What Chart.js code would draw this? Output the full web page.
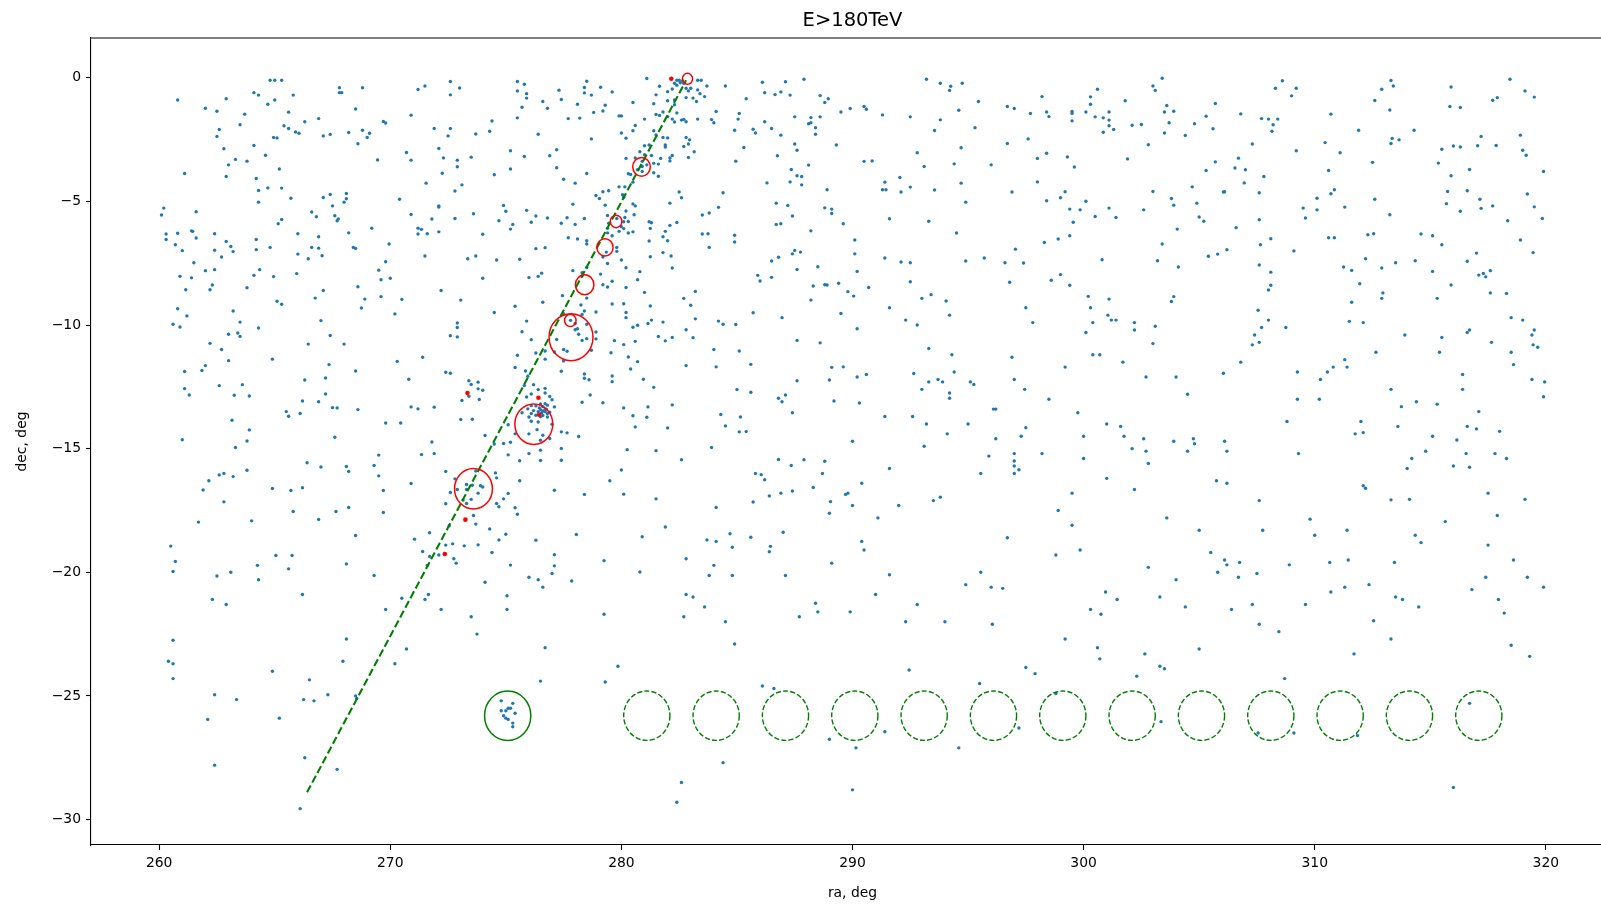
<!DOCTYPE html>
<html>
<head>
<meta charset="utf-8">
<title>E>180TeV</title>
<script src="https://cdn.jsdelivr.net/npm/chart.js"></script>
<style>
  html, body { margin: 0; padding: 0; background: #fff; overflow: hidden; }
  canvas { display: block; }
</style>
</head>
<body>
<canvas id="sky" width="1640" height="905"></canvas>
<script>
// events above 180 TeV, [ra, dec] in degrees
const events = [
  [264.8,-0.1],[265.0,-0.1],[265.3,-0.1],[264.1,-0.6],[264.3,-0.7],[265.8,-0.7],[267.8,-0.4],[268.8,-0.4],[267.8,-0.6],[267.9,-0.6],
  [260.8,-0.9],[262.9,-0.85],[265.0,-0.9],[264.7,-1.07],[262.0,-1.23],[262.5,-1.35],[263.7,-1.47],[265.6,-1.39],[266.9,-1.65],[266.3,-1.78],
  [263.5,-1.9],[265.4,-1.94],[265.6,-2.05],[265.9,-2.19],[266.05,-2.24],[262.6,-2.09],[262.5,-2.37],[264.95,-2.41],[265.1,-2.43],[267.1,-2.35],
  [267.4,-2.29],[268.2,-2.21],[268.5,-1.26],[268.8,-2.12],[269.1,-2.24],[269.0,-2.41],[268.6,-2.67],[269.7,-1.77],[269.8,-1.83],[270.9,-1.51],
  [271.2,-0.47],[271.5,-0.33],[272.6,-0.15],[273.0,-0.41],[272.6,-0.69],[271.9,-2.05],[272.6,-2.05],[272.5,-2.35],[264.1,-2.74],[262.8,-2.87],
  [264.6,-3.13],[263.3,-3.3],[263.8,-3.37],[263.0,-3.52],[265.2,-3.69],[261.1,-3.87],[262.9,-3.99],[264.2,-4.07],[269.45,-3.32],[270.7,-3.02],
  [270.9,-3.33],[272.1,-2.86],[272.3,-3.24],[272.9,-3.33],[272.9,-3.6],[272.25,-3.86],[271.55,-4.26],[273.1,-4.33],[272.8,-4.58],[264.7,-4.45],
  [265.3,-4.46],[264.3,-4.56],[264.3,-5.03],[265.7,-4.87],[267.1,-4.84],[267.4,-4.72],[268.1,-4.68],[268.1,-4.89],[268.0,-5.03],[267.5,-5.18],
  [270.4,-4.91],[260.2,-5.27],[260.1,-5.55],[261.6,-5.42],[266.6,-5.43],[266.8,-5.62],[267.6,-5.58],[267.75,-5.71],[267.7,-5.78],[265.3,-5.73],
  [265.15,-5.9],[270.9,-5.53],[272.1,-5.18],[272.1,-5.23],[271.8,-5.71],[272.8,-5.69],[269.2,-6.08],[271.2,-6.08],[271.35,-6.13],[271.2,-6.32],
  [271.6,-6.31],[272.1,-6.23],[260.3,-6.32],[260.3,-6.54],[260.8,-6.29],[261.4,-6.19],[261.45,-6.21],[261.6,-6.48],[262.4,-6.31],[260.7,-6.75],
  [261.0,-6.99],[262.9,-6.62],[263.1,-6.82],[263.2,-7.03],[262.4,-6.97],[262.7,-7.25],[264.2,-6.54],[264.2,-6.95],[264.8,-6.86],[266.0,-6.31],
  [266.9,-6.43],[266.6,-6.86],[266.9,-6.89],[266.0,-7.13],[266.45,-7.32],[267.05,-7.2],[268.2,-6.27],[268.4,-6.86],[268.5,-6.9],[269.95,-6.72],
  [269.8,-7.44],[269.5,-7.78],[269.6,-8.17],[270.0,-8.11],[271.5,-7.21],[273.35,-7.32],[261.5,-7.48],[260.9,-8.03],[261.4,-8.09],[262.0,-7.8],
  [262.4,-7.76],[261.15,-8.57],[262.2,-8.57],[262.3,-8.38],[263.8,-8.49],[264.1,-7.99],[264.35,-7.76],[264.95,-8.04],[265.95,-7.92],[267.1,-8.6],
  [266.75,-8.91],[265.1,-9.04],[265.3,-9.16],[268.6,-8.45],[268.9,-8.95],[269.6,-8.85],[270.5,-8.96],[272.2,-8.6],[273.05,-8.99],

  [275.5,-0.15],[275.8,-0.26],[278.5,-0.14],[275.5,-0.53],[275.9,-0.64],[275.9,-0.82],[278.4,-0.39],[278.4,-0.61],[278.7,-0.7],[279.1,-0.38],
  [279.6,-0.57],[277.3,-0.5],[277.4,-0.88],[276.6,-0.96],[276.8,-1.23],[275.7,-1.19],[275.5,-1.62],[274.4,-1.75],[273.7,-2.27],[274.3,-2.16],
  [276.4,-2.28],[278.1,-1.07],[277.7,-1.65],[278.2,-1.63],[278.8,-1.4],[279.2,-1.34],[279.3,-1.11],[279.9,-1.54],[280.0,-1.54],[280.5,-1.0],
  [281.0,-1.67],[280.6,-1.93],[280.5,-2.14],[280.0,-2.23],[280.2,-2.44],[278.7,-2.47],[281.1,-0.03],[281.65,-0.34],[281.5,-0.69],[282.0,-0.93],
  [282.0,-0.56],[282.2,-0.45],[282.3,-0.22],[282.5,-0.1],[282.65,-0.12],[282.4,-0.1],[282.55,-0.2],[282.7,-0.22],[282.4,-0.3],[283.3,-0.1],
  [283.45,-0.1],[283.7,-0.33],[283.3,-0.49],[283.4,-0.64],[283.6,-0.76],[283.25,-0.96],[282.8,-0.8],[283.1,-0.82],[282.9,-0.53],[283.0,-0.42],
  [282.8,-0.42],[281.4,-1.05],[281.8,-1.38],[281.5,-1.48],[281.65,-1.52],[282.0,-1.57],[282.2,-1.67],[282.3,-1.79],[282.6,-1.71],[282.7,-1.68],
  [282.8,-1.78],[282.4,-1.42],[282.3,-1.09],[282.3,-0.9],[283.3,-1.67],[284.1,-1.36],[283.9,-1.69],[284.0,-1.82],[284.5,-0.33],[285.4,-0.85],
  [286.1,-0.18],[286.2,-0.6],[286.65,-0.68],[286.9,-0.57],[287.1,-0.16],[287.3,-0.7],[287.9,-0.06],[288.6,-0.72],[288.95,-0.85],[288.8,-1.0],
  [289.5,-1.38],[285.1,-1.44],[285.05,-1.67],[286.2,-1.78],[286.5,-2.05],[286.9,-2.32],[287.5,-1.58],[288.2,-1.61],[288.6,-1.58],[288.1,-1.86],
  [288.2,-1.82],[288.4,-2.02],[288.4,-2.28],[289.3,-2.72],[284.9,-2.12],[285.7,-2.08],[285.8,-2.23],[285.3,-2.82],[284.95,-3.37],[286.75,-3.15],
  [287.5,-2.68],[287.6,-2.93],[288.1,-3.53],[287.35,-3.71],[287.6,-3.96],[287.8,-3.99],[287.8,-4.33],[287.3,-4.21],[286.3,-4.25],[284.4,-4.65],
  [288.9,-4.53],[288.8,-5.26],[289.1,-5.31],[289.1,-5.49],[289.6,-5.9],[286.7,-5.07],[287.2,-5.16],[287.4,-5.59],[286.7,-5.93],[286.9,-5.9],
  [288.2,-6.19],[287.5,-6.98],[287.75,-7.05],[287.4,-7.12],[286.8,-7.26],[286.5,-7.41],[287.6,-7.75],[288.5,-7.64],[285.9,-7.99],[286.0,-8.22],
  [286.5,-8.07],[288.3,-8.42],[288.8,-8.37],[288.9,-8.38],[289.4,-8.31],[288.2,-8.99],
  [281.4,-2.14],[281.5,-2.31],[281.8,-2.41],[282.0,-2.43],[281.9,-2.72],[281.9,-2.8],[281.0,-2.75],[281.2,-2.72],[280.8,-2.99],[281.0,-3.11],
  [280.6,-3.24],[280.2,-3.26],[281.3,-3.14],[281.7,-3.26],[280.9,-3.38],[280.9,-3.59],[281.1,-3.52],[281.4,-3.46],[281.6,-3.49],[280.7,-3.72],
  [280.9,-3.79],[280.3,-3.88],[280.4,-3.91],[281.4,-3.84],[281.6,-3.98],[282.2,-3.14],[282.1,-3.24],[282.1,-3.36],[282.8,-2.41],[282.95,-2.51],
  [282.9,-2.68],[282.7,-2.78],[283.15,-2.99],[282.9,-3.22],[282.5,-4.62],[282.6,-4.85],[282.1,-5.07],[279.9,-4.41],[280.15,-4.41],[280.5,-4.22],
  [279.45,-4.57],[279.2,-4.61],[278.9,-4.76],[279.05,-4.88],[280.05,-4.73],[280.1,-4.83],[279.3,-5.15],[280.5,-5.1],[280.6,-5.18],[280.55,-5.54],
  [280.2,-5.39],[280.15,-5.65],[279.4,-5.57],[279.8,-5.69],[280.3,-5.81],[280.1,-5.82],[279.45,-5.88],[280.0,-6.02],[280.1,-6.1],[279.4,-6.08],
  [279.9,-6.21],[280.3,-6.28],[280.5,-6.23],[281.2,-5.82],[281.3,-5.86],[281.25,-6.09],[281.8,-6.43],[281.9,-6.21],[282.1,-5.97],[282.4,-5.85],
  [282.0,-6.59],[281.2,-6.6],[279.4,-6.27],[279.6,-6.39],[279.8,-6.86],[279.35,-7.05],[279.8,-7.02],[280.0,-7.37],[280.2,-7.68],[279.4,-7.51],
  [279.2,-7.25],[281.25,-7.24],[281.8,-7.07],[282.15,-7.21],[282.2,-7.69],[283.5,-5.55],[283.8,-5.47],[284.2,-5.24],[283.5,-6.32],[283.75,-6.31],
  [283.8,-6.86],[284.9,-6.37],[284.9,-6.64],[279.1,-7.94],[279.2,-8.37],[279.4,-8.46],[279.6,-8.23],[280.2,-8.48],[280.8,-7.84],[280.7,-8.17],
  [281.0,-8.68],[281.25,-9.23],[280.1,-9.14],[279.6,-9.15],[278.5,-7.67],[278.3,-7.88],[278.3,-8.02],[278.5,-8.91],[278.25,-9.19],[277.9,-7.8],
  [277.7,-6.47],[278.1,-6.52],[278.5,-6.59],[278.5,-6.72],[277.45,-8.81],[276.55,-7.9],[276.4,-8.03],[276.0,-8.08],[275.4,-9.24],[276.6,-9.08],
  [274.0,-8.11],[273.7,-7.21],[274.6,-7.37],[275.6,-7.34],[276.3,-6.91],[276.7,-6.87],[274.0,-6.33],[274.7,-5.78],[275.2,-6.12],[275.3,-5.93],
  [275.0,-5.4],[274.9,-5.16],[275.9,-5.36],[276.1,-5.84],[276.3,-5.59],[276.8,-5.67],[277.4,-5.88],[277.65,-5.66],[278.0,-5.93],[278.4,-5.69],
  [277.9,-5.11],[277.2,-2.91],[276.9,-3.15],[277.2,-3.64],[277.5,-4.1],[278.0,-4.26],[278.5,-3.87],[275.8,-3.18],[275.2,-2.95],[275.2,-3.69],
  [274.5,-3.92],[273.5,-3.21],[273.6,-5.5],[282.7,-8.92],[283.2,-8.64],[283.0,-9.2],

  [293.2,-0.06],[293.8,-0.22],[294.25,-0.34],[294.2,-0.51],[294.75,-0.22],[295.45,-0.96],[294.6,-1.31],[293.8,-1.7],[293.55,-2.13],[292.5,-1.58],
  [291.3,-1.5],[289.9,-1.24],[290.5,-1.16],[290.6,-1.27],[294.7,-2.83],[292.8,-3.03],[293.1,-3.59],[294.4,-3.48],[290.5,-3.38],[290.85,-3.36],
  [291.4,-4.22],[291.3,-4.53],[291.45,-4.53],[292.05,-4.03],[292.1,-4.62],[292.5,-4.42],[293.55,-4.54],[294.7,-4.26],[294.9,-5.03],[291.6,-5.7],
  [293.3,-5.8],[294.5,-6.28],[295.3,-2.02],[296.0,-3.52],[296.7,-2.66],[297.6,-2.47],[296.7,-1.16],[297.0,-1.24],[297.7,-1.44],[298.2,-0.76],
  [298.4,-1.38],[298.5,-1.57],[299.5,-1.44],[299.5,-1.36],[299.5,-1.74],[300.1,-1.38],[300.3,-0.77],[300.3,-1.07],[300.6,-0.46],[300.5,-1.58],
  [300.85,-1.62],[301.1,-1.38],[301.1,-1.71],[301.1,-1.94],[300.85,-2.2],[301.3,-2.09],[301.8,-0.93],[302.1,-1.92],[302.5,-1.89],[302.8,-2.71],
  [303.0,-0.33],[303.1,-0.51],[303.4,-0.02],[303.6,-1.12],[303.5,-1.38],[303.9,-1.35],[303.7,-1.82],[303.5,-2.23],[304.4,-2.33],[304.8,-1.86],
  [305.3,-1.55],[305.7,-1.04],[305.6,-2.06],[298.0,-3.26],[298.4,-3.05],[299.3,-3.2],[299.6,-3.61],[301.9,-3.28],[305.7,-3.4],[305.3,-3.75],
  [298.0,-4.21],[296.9,-4.62],[298.4,-4.97],[299.0,-4.85],[299.2,-4.61],[299.4,-5.31],[299.85,-5.34],[299.55,-5.84],[300.1,-4.99],[300.5,-5.61],
  [301.1,-5.27],[301.4,-5.65],[303.0,-4.6],[302.6,-5.34],[303.8,-4.88],[303.9,-5.15],[304.7,-4.41],[304.9,-5.07],[305.0,-5.63],[305.2,-5.8],
  [304.05,-6.12],[306.05,-4.62],[298.3,-6.66],[298.9,-6.52],[299.4,-6.39],[297.05,-6.93],[296.6,-7.48],[297.4,-7.49],[300.8,-7.36],[303.4,-6.72],
  [303.2,-7.4],[304.1,-7.65],[305.4,-7.22],[305.8,-7.13],[290.1,-6.56],[290.1,-7.12],[290.2,-7.83],[290.7,-8.48],[289.8,-8.65],[290.05,-8.83],
  [291.4,-7.29],[292.1,-7.45],[292.5,-7.48],[292.5,-8.25],[293.0,-8.92],[293.4,-8.77],[294.05,-9.03],[294.9,-7.41],[295.7,-7.29],[296.8,-8.27],
  [298.6,-8.19],[299.0,-7.96],[299.4,-8.39],[300.2,-8.84],[301.1,-8.95],[303.9,-8.85],[303.8,-9.05],

  [308.6,-0.12],[308.3,-0.42],[309.2,-0.42],[309.0,-0.73],[306.8,-1.46],[307.7,-1.65],[308.0,-1.67],[308.4,-1.67],[308.2,-1.9],[308.15,-2.16],
  [307.3,-2.68],[309.2,-2.95],[306.7,-3.25],[306.55,-3.65],[307.0,-3.72],[307.8,-3.99],[306.95,-4.25],[306.1,-4.61],[307.6,-4.65],[307.6,-5.74],
  [306.6,-6.06],[306.2,-6.95],[307.65,-6.75],[308.1,-6.51],[309.1,-7.0],[307.6,-7.57],[308.1,-7.86],[308.1,-8.39],[308.0,-8.58],[310.7,-1.47],
  [310.45,-2.62],[311.1,-3.03],[310.6,-3.75],[310.85,-4.53],[310.7,-4.69],[310.1,-4.87],[309.5,-5.27],[310.1,-5.34],[309.6,-5.67],[311.3,-5.23],
  [310.6,-6.47],[310.85,-6.47],[311.9,-2.12],[312.5,-3.42],[312.6,-4.91],[313.25,-5.54],[312.3,-6.35],[312.55,-6.31],[312.2,-7.32],[311.25,-7.65],
  [311.6,-7.79],[311.95,-8.33],[312.9,-7.69],[313.5,-7.48],[312.95,-8.7],[312.9,-8.92],[311.6,-9.08],[313.3,-0.11],[313.4,-0.33],[312.9,-0.46],
  [312.6,-0.92],[313.25,-1.3],[314.3,-2.12],[313.35,-2.45],[313.65,-2.51],[313.3,-2.66],[315.9,-0.37],[315.85,-1.16],[316.3,-1.2],[317.7,-0.91],
  [317.9,-0.8],[318.45,-0.06],[319.1,-0.53],[319.5,-0.78],[317.2,-2.37],[318.9,-2.32],[315.5,-2.89],[316.0,-2.76],[316.3,-2.8],[317.05,-2.75],
  [317.85,-2.74],[319.0,-2.93],[319.15,-3.13],[315.35,-3.45],[315.9,-3.96],[316.7,-3.71],[319.9,-3.79],[315.75,-4.6],[316.6,-4.57],[315.7,-5.09],
  [317.15,-4.91],[317.2,-5.28],[316.3,-5.4],[317.7,-5.18],[319.2,-4.7],[319.5,-5.22],[318.35,-5.78],[319.85,-5.69],[314.6,-6.32],[315.1,-6.39],
  [315.5,-6.75],[318.9,-6.56],[319.45,-7.07],[314.35,-7.4],[315.1,-7.83],[316.6,-7.42],[317.0,-7.09],[317.1,-7.98],[317.3,-7.91],[317.4,-8.05],
  [317.6,-7.8],[315.9,-8.38],[315.3,-8.92],[317.6,-8.7],[318.3,-8.72],

  [260.8,-9.34],[261.2,-9.63],[260.6,-9.97],[260.9,-10.08],[263.2,-9.43],[263.5,-9.88],[263.0,-10.37],[263.4,-10.32],[263.5,-10.46],[264.3,-10.12],
  [262.2,-10.74],[262.7,-10.99],[263.0,-11.44],[261.1,-11.88],[261.85,-11.84],[262.0,-11.64],[261.1,-12.57],[261.3,-12.83],[262.6,-12.45],[263.25,-12.84],
  [263.6,-12.41],[263.9,-12.87],[264.9,-11.38],[263.15,-13.85],[263.9,-14.24],[263.8,-14.69],[263.3,-14.95],[261.0,-14.64],[266.45,-10.77],[267.0,-9.82],
  [267.4,-10.42],[268.0,-10.77],[267.35,-11.6],[267.2,-12.14],[266.3,-12.22],[267.2,-12.79],[266.9,-13.1],[266.2,-13.07],[265.5,-13.5],[265.6,-13.69],
  [266.1,-13.58],[267.5,-13.34],[267.7,-13.35],[268.6,-13.42],[268.5,-11.86],[268.75,-9.31],[270.2,-9.55],[270.3,-11.47],[271.4,-11.3],[270.8,-12.19],
  [272.4,-11.91],[272.6,-11.95],[273.4,-12.25],[272.6,-10.43],[272.9,-10.48],[272.9,-10.1],[272.9,-9.92],[273.1,-13.05],[273.05,-13.82],[270.9,-13.31],
  [271.2,-13.39],[271.9,-13.32],[269.8,-13.96],[270.45,-13.96],[267.6,-14.54],[271.8,-14.73],[271.35,-15.24],[271.9,-15.2],[269.5,-15.26],[269.3,-15.68],
  [269.5,-16.1],[269.7,-16.69],[270.9,-16.41],[266.4,-15.57],[267.0,-15.74],[268.1,-15.72],[268.2,-15.92],[263.8,-15.87],[262.6,-16.06],[262.8,-16.0],
  [263.2,-16.13],[262.15,-16.3],[261.9,-16.67],[262.8,-17.15],[264.9,-16.61],[265.7,-16.69],[266.2,-16.58],[265.8,-17.54],[267.65,-17.54],[268.2,-17.38],
  [266.9,-17.86],[269.7,-17.58],[264.0,-17.92],[261.7,-17.97],[268.5,-18.51],[260.5,-18.94],[260.7,-19.56],[260.6,-19.97],[265.05,-19.32],[265.75,-19.32],
  [264.25,-19.72],[265.6,-19.86],[263.1,-20.0],[268.1,-19.66],[271.05,-18.66],[271.7,-18.4],[271.4,-19.16],[271.7,-19.36],[271.6,-19.72],[272.1,-19.3],
  [272.4,-15.92],[272.8,-16.22],[272.4,-17.23],[272.6,-16.77],[272.55,-18.12],[272.4,-18.9],[272.7,-18.85],[272.75,-19.45],[272.85,-19.63],[273.2,-18.93],
  [272.9,-16.65],[273.3,-16.65],[273.3,-16.45],[273.15,-17.08],[273.3,-17.22],[269.3,-20.13],[262.5,-20.15],

  [274.5,-9.49],[275.9,-9.84],[275.7,-10.27],[276.1,-10.59],[275.4,-11.72],[275.5,-11.22],[276.3,-11.13],[276.7,-11.05],[276.7,-11.38],[277.5,-9.54],
  [278.4,-9.43],[278.3,-9.57],[278.9,-9.47],[277.8,-9.81],[278.0,-9.94],[278.1,-10.15],[278.5,-9.97],[278.0,-10.19],[278.15,-10.37],[278.3,-10.62],
  [278.5,-10.55],[278.9,-10.28],[278.9,-10.56],[278.7,-11.02],[277.5,-10.99],[277.65,-11.06],[277.5,-11.45],[277.2,-10.58],[277.1,-11.09],[277.4,-11.87],
  [278.4,-11.98],[278.4,-12.15],[278.6,-12.21],[278.3,-13.12],[278.65,-12.83],[279.2,-13.14],[275.85,-11.86],[275.95,-12.07],[275.8,-12.45],[276.2,-12.41],
  [275.9,-12.91],[276.1,-12.79],[276.4,-12.61],[276.7,-12.56],[276.7,-12.75],[276.9,-12.89],[277.0,-13.02],[277.1,-13.31],[276.8,-13.24],[276.45,-13.35],
  [276.7,-13.41],[276.3,-13.65],[276.55,-13.55],[276.8,-13.58],[276.8,-13.72],[276.4,-13.92],[277.0,-14.01],[276.1,-13.58],[276.0,-13.72],[276.1,-13.89],
  [275.7,-13.55],[275.95,-13.39],[276.1,-13.26],[276.5,-13.19],[276.3,-13.27],[276.7,-13.18],[276.5,-13.42],[276.6,-13.48],[276.4,-13.5],[276.6,-13.3],
  [276.7,-13.5],[276.5,-13.7],[276.75,-13.4],[276.6,-13.66],[276.2,-13.46],[276.9,-13.52],[276.0,-14.4],[276.35,-14.23],[276.6,-14.46],[276.9,-14.59],
  [276.5,-14.66],[276.5,-15.06],[276.0,-15.2],[276.5,-15.48],[277.4,-14.32],[277.65,-14.36],[278.15,-14.51],[277.4,-14.99],[277.4,-15.47],[275.1,-14.03],
  [275.4,-14.4],[275.2,-14.74],[274.9,-14.79],[274.5,-14.81],[274.1,-14.47],[275.1,-15.25],[275.6,-15.49],[274.6,-16.18],[274.55,-15.98],[275.6,-16.3],
  [273.55,-13.81],[273.4,-12.88],[273.5,-12.4],[273.8,-12.31],[273.8,-12.58],[274.0,-12.64],[273.85,-13.01],[275.1,-16.81],[274.9,-17.03],[274.7,-17.35],
  [274.6,-17.22],[275.4,-17.39],[275.5,-17.65],[274.3,-18.25],[273.8,-18.89],[274.7,-18.69],[275.0,-18.46],[274.4,-19.2],[275.2,-19.71],[276.3,-18.7],
  [277.0,-20.05],[277.1,-19.74],[277.1,-19.29],[278.05,-18.47],[279.25,-19.53],[280.8,-19.99],[277.1,-16.68],[278.4,-16.85],[279.5,-16.3],[280.0,-15.86],
  [280.1,-16.84],[281.5,-17.03],[280.25,-15.04],[281.5,-15.08],[280.1,-13.35],[280.5,-13.67],[281.1,-13.73],[281.15,-13.31],[280.6,-14.12],[282.0,-14.16],
  [282.2,-13.23],[279.6,-12.29],[279.6,-12.06],[280.1,-10.79],[280.3,-11.29],[280.4,-11.78],[280.7,-11.48],[280.5,-10.09],[280.7,-10.01],[281.15,-9.94],
  [281.3,-9.8],[281.8,-9.88],[281.6,-10.46],[281.9,-10.64],[282.2,-10.5],[280.6,-10.66],[279.7,-10.63],[279.55,-11.12],[280.2,-9.49],[280.2,-9.7],
  [280.95,-12.19],[281.4,-12.52],[282.8,-10.19],[283.1,-10.51],[283.2,-9.75],[282.8,-11.64],[284.0,-10.99],[284.1,-11.69],[284.2,-9.84],[284.4,-9.97],
  [284.95,-9.98],[285.1,-11.05],[285.6,-11.59],[285.6,-12.72],[285.0,-12.61],[284.3,-13.62],[284.5,-14.08],[285.15,-13.72],[285.1,-14.32],[285.4,-14.31],
  [283.9,-14.95],[282.6,-15.45],[281.9,-18.17],[280.9,-18.56],[282.8,-19.45],[283.7,-18.69],[284.1,-18.75],[284.7,-18.44],[284.8,-18.99],[284.0,-19.72],
  [283.8,-20.13],[285.6,-18.58],[285.7,-17.16],[284.1,-17.38],[285.7,-9.5],[286.95,-9.7],[287.6,-10.62],[288.6,-10.72],[289.5,-9.53],[289.6,-11.69],
  [289.1,-11.71],[289.0,-12.22],[287.6,-12.25],[289.2,-13.07],[286.8,-12.96],[286.95,-13.1],[287.1,-12.83],[287.4,-13.55],[286.45,-18.95],[286.4,-19.17],
  [287.0,-18.38],[289.1,-19.63],[289.0,-17.61],[289.05,-17.14],[288.3,-16.57],[288.7,-16.0],[288.8,-15.51],[287.9,-15.45],[287.35,-15.68],[286.8,-15.44],
  [285.8,-16.0],[286.05,-16.05],[286.2,-16.26],[286.4,-16.91],[286.9,-16.8],[287.4,-16.71],[289.7,-16.85],[287.1,-20.13],[284.8,-20.13],
  [273.7,-15.9],[273.9,-16.5],[274.0,-16.55],[273.55,-16.48],[273.5,-17.05],[273.8,-16.8],[273.6,-17.7],[273.7,-18.05],

  [291.6,-9.3],[297.5,-9.3],[300.3,-9.3],[290.2,-10.15],[292.3,-9.8],[292.8,-10.0],[294.2,-9.6],[297.8,-9.9],[293.3,-10.95],[294.3,-11.2],
  [290.2,-12.1],[290.6,-12.0],[292.65,-11.96],[293.3,-12.3],[293.0,-12.6],[293.7,-12.2],[293.9,-12.3],[294.4,-11.9],[294.2,-12.75],[294.2,-12.96],
  [290.3,-13.15],[291.4,-13.7],[292.6,-13.7],[293.2,-14.0],[294.1,-14.4],[293.1,-14.9],[290.0,-14.7],[291.6,-15.8],[290.4,-16.4],[289.8,-16.8],
  [290.0,-17.3],[291.1,-17.8],[292.0,-17.3],[293.5,-17.1],[293.8,-16.96],[295.0,-14.0],[295.1,-12.3],[295.25,-12.4],[296.1,-13.4],[296.2,-13.4],
  [296.2,-14.6],[296.9,-11.3],[297.0,-12.2],[297.45,-12.6],[297.5,-14.15],[297.3,-14.5],[298.5,-13.0],[299.2,-11.7],[299.75,-13.55],[300.0,-14.5],
  [298.2,-15.2],[297.0,-15.2],[297.0,-15.5],[297.0,-15.7],[297.2,-15.85],[297.0,-16.0],[295.9,-15.3],[295.55,-16.0],[300.0,-15.4],[301.0,-14.0],
  [301.6,-14.1],[301.75,-14.5],[301.0,-16.2],[302.1,-15.0],[302.2,-16.65],[302.6,-14.6],[302.7,-15.1],[302.8,-15.6],[300.1,-10.3],[300.4,-9.9],
  [300.4,-11.2],[300.7,-11.2],[301.05,-9.6],[301.2,-9.8],[301.4,-9.8],[301.7,-11.5],[302.2,-9.9],[302.2,-10.2],[303.0,-10.75],[303.1,-10.05],
  [302.7,-12.1],[304.0,-12.1],[304.5,-12.8],[306.05,-11.95],[303.9,-14.7],[304.5,-15.1],[304.75,-14.6],[304.8,-14.8],[306.1,-14.7],[305.75,-16.3],
  [299.5,-16.8],[298.9,-17.5],[299.5,-18.1],[299.85,-19.1],[298.8,-19.3],[296.7,-18.6],[295.55,-20.0],[290.4,-18.75],[290.5,-19.1],[291.6,-20.1],
  [302.8,-19.8],[303.6,-17.8],[305.0,-18.3],[305.5,-19.2],[306.1,-19.5],[305.8,-20.0],

  [307.55,-9.4],[308.0,-9.8],[307.7,-10.1],[308.75,-10.1],[307.4,-10.4],[307.3,-10.8],[307.6,-10.7],[306.8,-11.5],[309.25,-11.9],[310.25,-12.2],
  [310.55,-11.9],[310.8,-11.7],[311.3,-11.4],[311.4,-11.7],[311.5,-9.85],[312.1,-9.9],[312.65,-11.1],[310.2,-13.0],[309.25,-13.0],[308.8,-13.9],
  [312.0,-13.9],[311.75,-14.4],[312.1,-14.35],[309.3,-15.2],[306.2,-15.1],[306.2,-16.4],[307.6,-17.1],[307.75,-18.3],[309.8,-17.85],[310.0,-18.5],
  [311.4,-18.3],[312.1,-16.5],[312.2,-16.6],[313.3,-17.07],[314.1,-17.05],[313.9,-10.4],[313.3,-12.6],[313.75,-13.3],[314.4,-13.1],[315.3,-13.2],
  [313.6,-14.1],[314.2,-15.4],[314.0,-15.8],[314.8,-15.1],[315.1,-14.5],[315.5,-10.5],[315.4,-11.1],[316.4,-12.0],[316.4,-12.6],[316.6,-10.3],
  [316.7,-10.2],[317.65,-10.7],[317.1,-13.5],[316.6,-14.1],[317.0,-14.2],[318.0,-14.3],[316.15,-14.65],[316.55,-15.2],[316.0,-15.7],[316.7,-15.75],
  [317.8,-15.2],[318.3,-15.4],[318.5,-9.7],[319.0,-9.8],[319.5,-10.2],[319.4,-10.4],[319.45,-10.8],[319.65,-10.9],[318.5,-11.1],[318.6,-11.6],
  [319.4,-12.2],[319.95,-12.3],[319.9,-12.9],[317.5,-16.8],[319.1,-17.05],[317.9,-17.7],[315.65,-17.95],[314.35,-18.5],[314.6,-18.8],[317.5,-18.9],
  [318.6,-19.5],[306.2,-19.7],[306.75,-19.6],[307.5,-20.05],[308.9,-19.7],[310.65,-19.6],[311.45,-19.5],[313.45,-19.6],

  [264.3,-20.3],[266.2,-20.9],[262.3,-21.1],[262.9,-21.3],[270.5,-21.05],[269.8,-21.5],[272.2,-21.5],[271.5,-21.1],[271.65,-20.9],[260.6,-22.75],
  [260.4,-23.6],[260.6,-23.7],[260.6,-24.3],[268.1,-22.7],[267.95,-23.6],[270.7,-23.1],[270.2,-23.7],[264.9,-24.0],[266.5,-24.35],[262.4,-24.95],
  [263.35,-25.15],[266.25,-25.15],[266.7,-25.2],[267.3,-24.95],[268.5,-25.0],[268.55,-25.1],[262.1,-25.95],[265.2,-25.9],[266.3,-27.5],[262.4,-27.8],
  [267.7,-27.97],[266.1,-29.56],

  [274.1,-20.4],[276.0,-20.2],[276.4,-20.3],[276.6,-20.6],[277.85,-20.35],[275.05,-20.95],[275.05,-21.5],[273.5,-21.8],[273.75,-22.5],[276.7,-23.05],
  [276.5,-24.4],[279.25,-21.7],[279.85,-23.8],[279.3,-24.44],[282.8,-20.9],[283.1,-21.0],[283.6,-21.4],[282.7,-21.8],[284.5,-22.0],[284.9,-22.9],
  [288.4,-21.25],[288.5,-21.6],[287.7,-21.8],[286.1,-24.6],[286.6,-24.7],[289.0,-26.75],[284.4,-27.7],[282.6,-28.5],[282.4,-29.3],
  [274.8,-25.2],[275.3,-25.3],[274.8,-25.6],[275.0,-25.6],[275.1,-25.5],[275.2,-25.5],[275.4,-25.7],[274.9,-25.8],[275.0,-25.9],[275.1,-25.95],
  [275.3,-26.1],[275.3,-26.25],

  [291.0,-20.9],[289.9,-21.6],[292.8,-21.3],[292.3,-22.0],[294.0,-22.0],[294.9,-20.5],[296.0,-20.6],[296.5,-20.65],[296.05,-22.1],[292.45,-23.95],
  [295.5,-24.5],[297.5,-23.85],[297.9,-24.1],[299.2,-22.7],[300.3,-21.5],[300.75,-21.7],[300.95,-20.8],[301.45,-21.1],[300.6,-23.05],[300.7,-23.5],
  [303.3,-21.0],[304.0,-20.3],[304.4,-21.4],[302.65,-23.3],[302.3,-24.2],[303.3,-23.8],[303.5,-23.9],[305.0,-23.1],[298.8,-24.9],[303.35,-26.04],
  [297.2,-26.3],[291.4,-26.45],[290.15,-27.1],[294.6,-27.1],[290.0,-28.8],

  [306.7,-20.2],[306.4,-21.5],[307.3,-21.3],[307.6,-22.1],[308.45,-22.4],[309.6,-21.3],[310.7,-20.8],[311.3,-20.6],[312.35,-20.5],[313.5,-21.0],
  [313.8,-21.1],[314.5,-21.4],[312.55,-21.96],[313.3,-22.7],[311.7,-23.3],[308.7,-24.3],[316.8,-20.7],[317.4,-20.2],[317.95,-21.1],[318.2,-21.65],
  [319.2,-20.2],[319.9,-20.6],[318.5,-22.95],[319.3,-23.4],[307.55,-26.5],[309.1,-26.5],[311.85,-26.6],[316.7,-25.3],[316.0,-28.7]
];

// highlighted events (red dots)
const hotRa  = [282.16, 273.34, 273.25, 272.36, 276.41, 276.44];
const hotDec = [-0.04, -12.75, -17.87, -19.26, -12.94, -13.63];

// candidate sources (red rings), radius in degrees
const srcRa     = [282.86, 280.87, 279.77, 279.29, 278.41, 277.79, 277.82, 276.21, 273.6];
const srcDec    = [-0.04, -3.6, -5.81, -6.86, -8.37, -9.81, -10.49, -14.01, -16.62];
const srcRadius = [0.22, 0.38, 0.25, 0.35, 0.4, 0.25, 0.95, 0.82, 0.82];

// fitted track (green dashed line)
const trackRa  = [266.4, 282.8];
const trackDec = [-28.9, -0.1];

// on-source and off-source windows, radius 1 deg
const onRa   = [275.08];
const offRa  = [281.1, 284.1, 287.1, 290.1, 293.1, 296.1, 299.1, 302.1, 305.1, 308.1, 311.1, 314.1, 317.1];
const winDec = -25.8;
const winRadius = 1.0;

const xTicks = [260, 270, 280, 290, 300, 310, 320];
const yTicks = [0, -5, -10, -15, -20, -25, -30];

const tickFont = { family: 'DejaVu Sans', size: 13.9 };
const minus = v => (v < 0 ? '\u2212' + Math.abs(v) : String(v));

// frame on top/right, plus ring overlays drawn in data units
const frame = {
  id: 'frame',
  afterDraw(chart) {
    const { ctx, chartArea: a } = chart;
    ctx.save();
    ctx.strokeStyle = '#000';
    ctx.lineWidth = 1.1;
    ctx.beginPath();
    ctx.moveTo(a.left, a.top);
    ctx.lineTo(a.right, a.top);
    ctx.lineTo(a.right, a.bottom);
    ctx.stroke();
    ctx.restore();
  }
};

const rings = {
  id: 'rings',
  afterDatasetsDraw(chart) {
    const { ctx, chartArea: a, scales: { x, y } } = chart;
    const ring = (ra, dec, r, color, width, dash) => {
      const cx = x.getPixelForValue(ra);
      const cy = y.getPixelForValue(dec);
      const rx = Math.abs(x.getPixelForValue(ra + r) - cx);
      const ry = Math.abs(y.getPixelForValue(dec + r) - cy);
      ctx.beginPath();
      ctx.setLineDash(dash);
      ctx.lineWidth = width;
      ctx.strokeStyle = color;
      ctx.ellipse(cx, cy, rx, ry, 0, 0, Math.PI * 2);
      ctx.stroke();
    };
    ctx.save();
    ctx.beginPath();
    ctx.rect(a.left, a.top, a.right - a.left, a.bottom - a.top);
    ctx.clip();
    onRa.forEach(ra => ring(ra, winDec, winRadius, '#008000', 1.5, []));
    offRa.forEach(ra => ring(ra, winDec, winRadius, '#008000', 1.4, [5.1, 2.2]));
    srcRa.forEach((ra, i) => ring(ra, srcDec[i], srcRadius[i], '#ff0000', 1.5, []));
    ctx.restore();
  }
};

const ctx = document.getElementById('sky').getContext('2d');
new Chart(ctx, {
  type: 'scatter',
  data: {
    datasets: [
      {
        label: 'hot',
        data: hotRa.map((ra, i) => ({ x: ra, y: hotDec[i] })),
        backgroundColor: '#ff0000',
        pointRadius: 2.3,
        borderWidth: 0,
        order: 0
      },
      {
        label: 'track',
        data: trackRa.map((ra, i) => ({ x: ra, y: trackDec[i] })),
        showLine: true,
        borderColor: '#008000',
        borderWidth: 2.1,
        borderDash: [7.7, 3.3],
        pointRadius: 0,
        fill: false,
        order: 1
      },
      {
        label: 'events',
        data: events.map(([ra, dec]) => ({ x: ra, y: dec })),
        backgroundColor: '#1f77b4',
        pointRadius: 1.7,
        borderWidth: 0,
        order: 2
      }
    ]
  },
  options: {
    responsive: false,
    animation: false,
    devicePixelRatio: 1,
    layout: { padding: { left: 0, right: 26, top: 0, bottom: 0 } },
    plugins: {
      legend: { display: false },
      tooltip: { enabled: false },
      title: {
        display: true,
        text: 'E>180TeV',
        fullSize: false,
        color: '#000',
        font: { family: 'DejaVu Sans', size: 19.5, weight: 'normal', lineHeight: 1.2 },
        padding: { top: 9, bottom: 5.6 }
      }
    },
    scales: {
      x: {
        type: 'linear',
        min: 257.05,
        max: 322.95,
        afterBuildTicks: axis => { axis.ticks = xTicks.map(v => ({ value: v })); },
        afterFit: axis => { axis.height = 60; },
        grid: { display: true, drawOnChartArea: false, drawTicks: true, tickLength: 5, tickWidth: 1.1, tickColor: '#000' },
        border: { display: true, color: '#000', width: 1.1 },
        ticks: { color: '#000', font: tickFont, padding: 5, maxRotation: 0, autoSkip: false, callback: v => minus(v) },
        title: { display: true, text: 'ra, deg', color: '#000', font: tickFont, padding: { top: 0, bottom: 3 } }
      },
      y: {
        type: 'linear',
        min: -31.03,
        max: 1.61,
        afterBuildTicks: axis => { axis.ticks = yTicks.map(v => ({ value: v })); },
        afterFit: axis => { axis.width = 91; },
        grid: { display: true, drawOnChartArea: false, drawTicks: true, tickLength: 5, tickWidth: 1.1, tickColor: '#000' },
        border: { display: true, color: '#000', width: 1.1 },
        ticks: { color: '#000', font: tickFont, padding: 5, autoSkip: false, callback: v => minus(v) },
        title: { display: true, text: 'dec, deg', color: '#000', font: tickFont, padding: { top: 14, bottom: 0 } }
      }
    }
  },
  plugins: [rings, frame]
});
</script>
</body>
</html>
